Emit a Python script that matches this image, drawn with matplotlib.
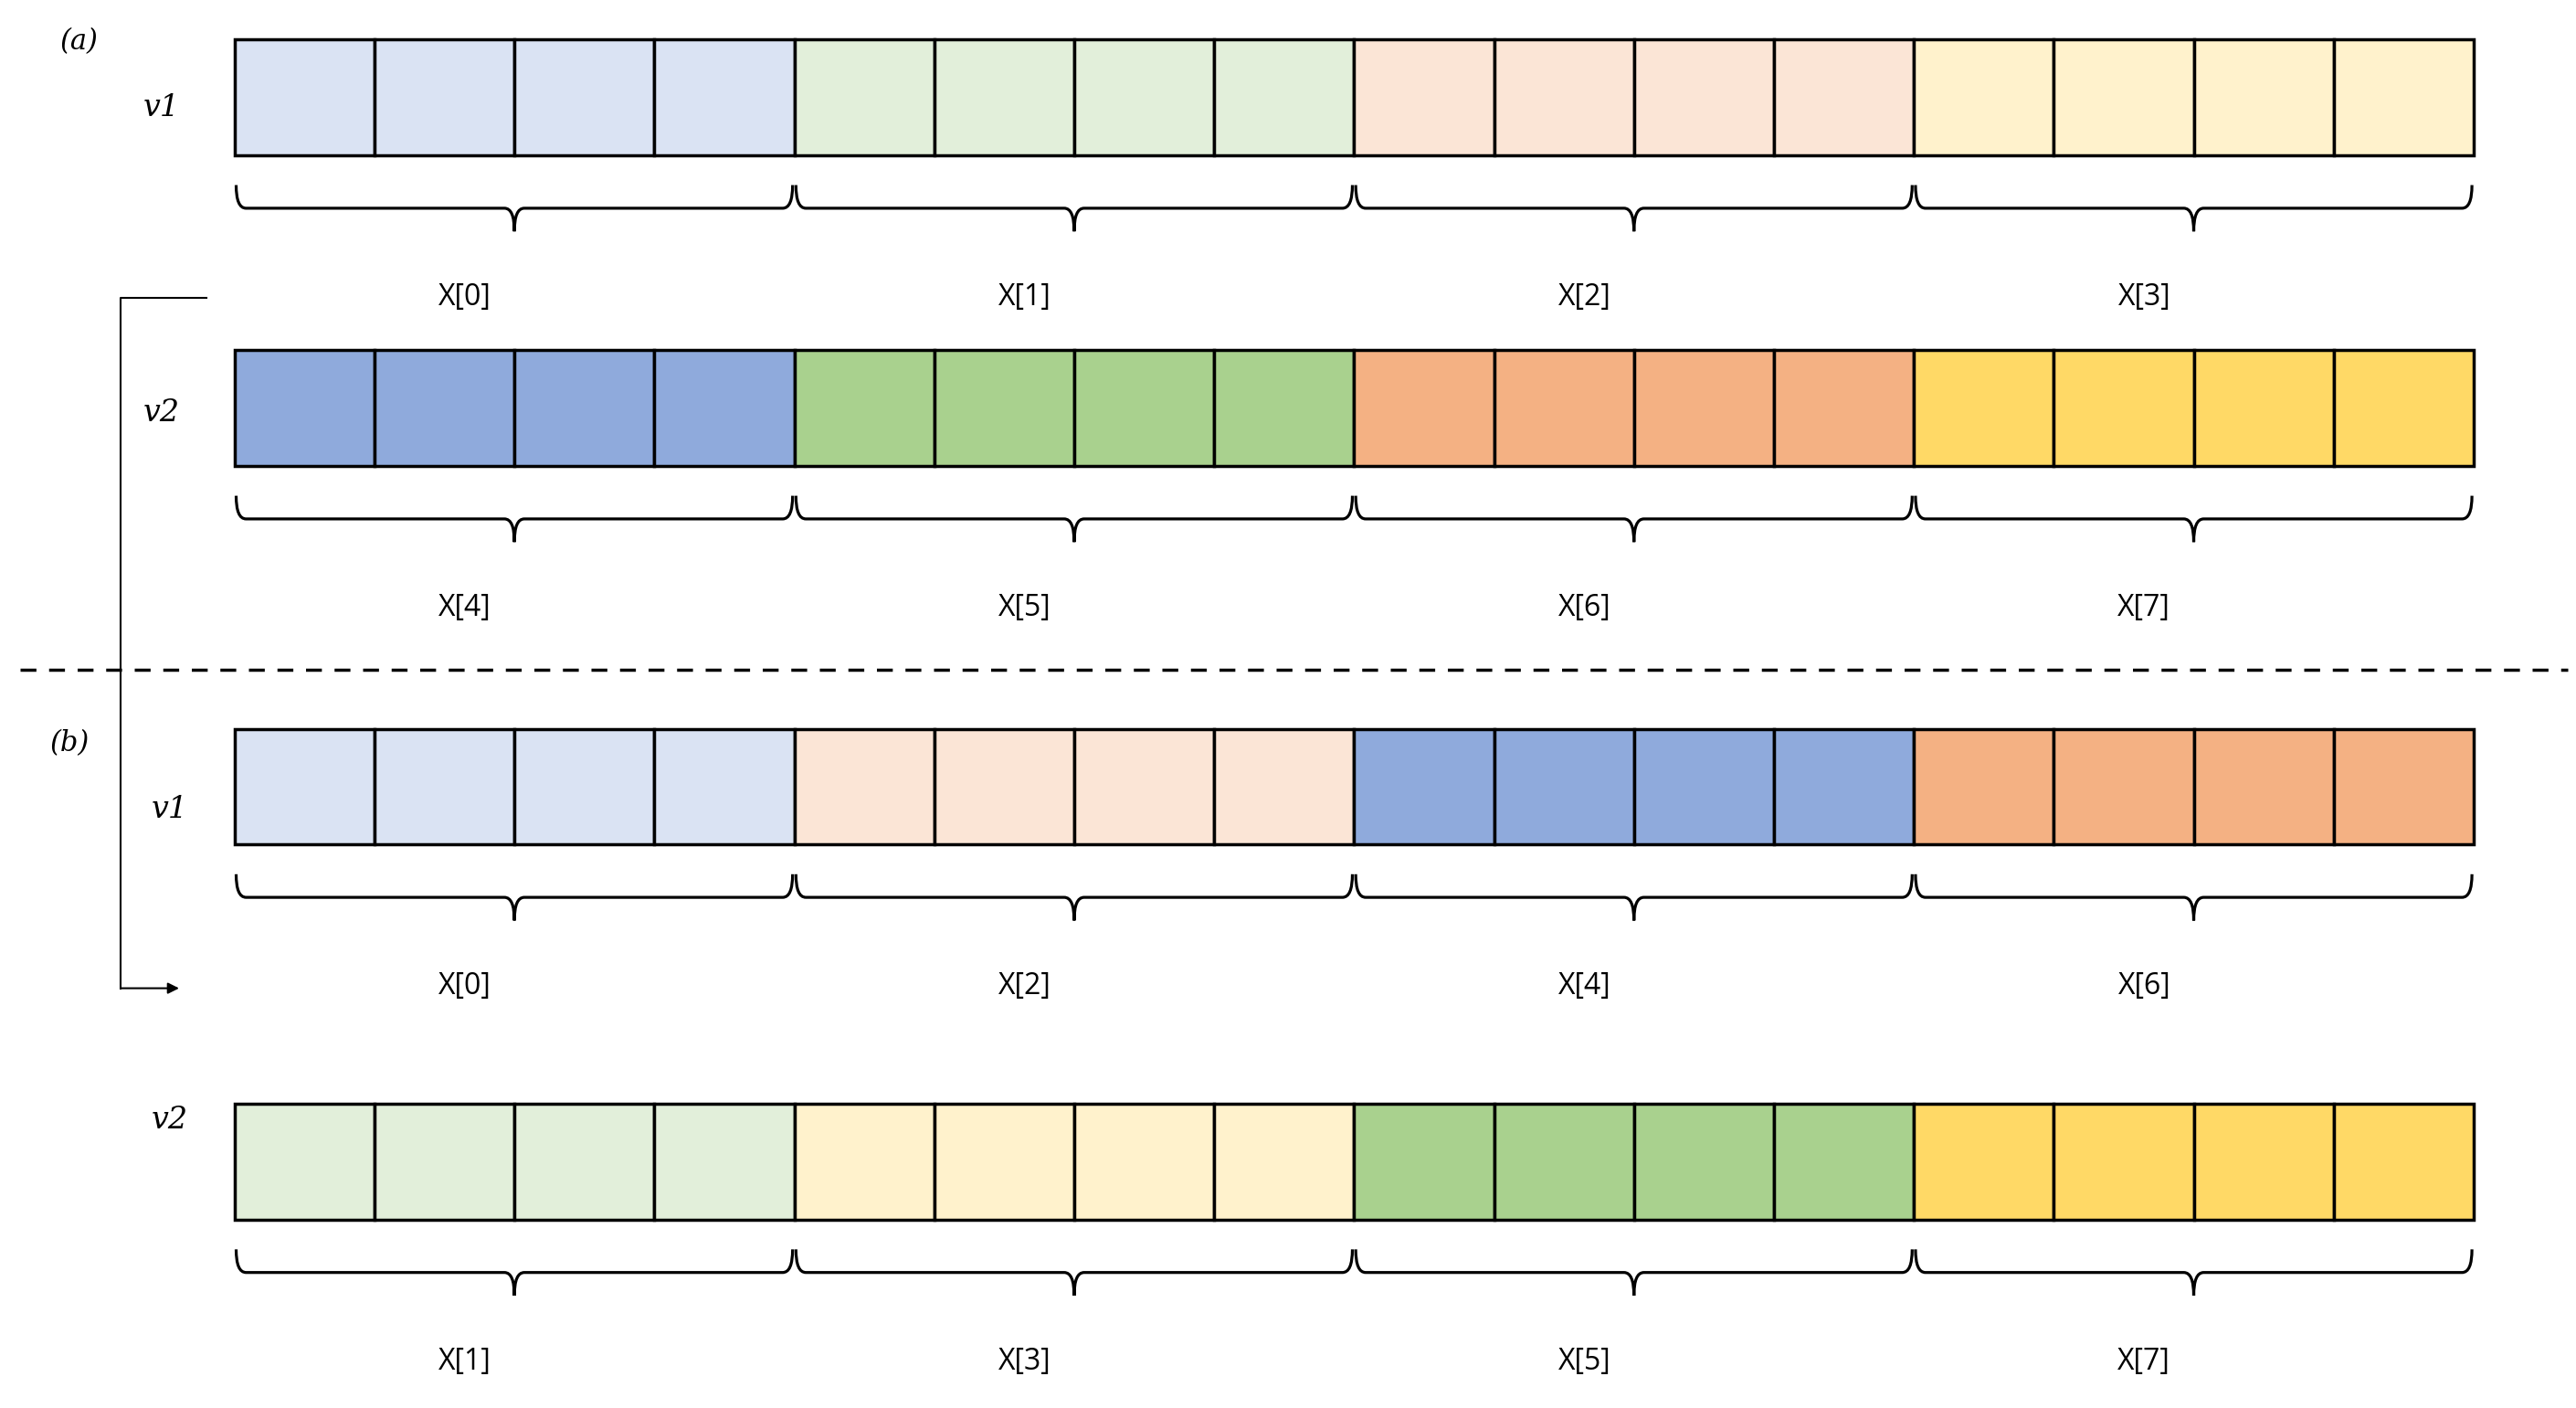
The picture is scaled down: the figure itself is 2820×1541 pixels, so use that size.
import matplotlib
matplotlib.use("Agg")
import matplotlib.pyplot as plt
from matplotlib.patches import Rectangle, PathPatch
from matplotlib.path import Path

LB, LG, LO, LY = "#DAE3F3", "#E2EFDA", "#FBE5D6", "#FFF2CC"
DB, DG, DO, DY = "#8FAADC", "#A9D18E", "#F4B183", "#FFD966"

rows_colors = [[LB, LG, LO, LY], [DB, DG, DO, DY], [LB, LO, DB, DO], [LG, LY, DG, DY]]
rows_labels = [["X[0]", "X[1]", "X[2]", "X[3]"], ["X[4]", "X[5]", "X[6]", "X[7]"],
               ["X[0]", "X[2]", "X[4]", "X[6]"], ["X[1]", "X[3]", "X[5]", "X[7]"]]
row_names = ["v1", "v2", "v1", "v2"]
row_top = [24, 212, 441, 668]
row_name_pos = [(98, 65), (98, 250), (103, 490), (103, 678)]

W, H = 1560, 852
fig = plt.figure(figsize=(28.2, 15.41), dpi=100)
ax = fig.add_axes([0, 0, 1, 1])
ax.set_xlim(0, W); ax.set_ylim(H, 0); ax.axis("off")

x0, x1 = 142, 1498
cw = (x1 - x0) / 16
rh = 70

def brace(xa, xb, yt, h=28, r=6):
    xm = (xa + xb) / 2
    ym = yt + h * 0.5
    verts = [(xa, yt), (xa, ym), (xa + r, ym), (xm - r, ym), (xm, ym), (xm, yt + h),
             (xm, ym), (xm + r, ym), (xb - r, ym), (xb, ym), (xb, yt)]
    codes = [Path.MOVETO, Path.CURVE3, Path.CURVE3, Path.LINETO, Path.CURVE3, Path.CURVE3,
             Path.CURVE3, Path.CURVE3, Path.LINETO, Path.CURVE3, Path.CURVE3]
    ax.add_patch(PathPatch(Path(verts, codes), fill=False, lw=2.3, ec="black"))

for r in range(4):
    yt = row_top[r]
    for g in range(4):
        for c in range(4):
            i = g * 4 + c
            ax.add_patch(Rectangle((x0 + i * cw, yt), cw, rh, fc=rows_colors[r][g],
                                   ec="black", lw=2.5))
        xa, xb = x0 + g * 4 * cw, x0 + (g + 1) * 4 * cw
        brace(xa + 1, xb - 1, yt + rh + 18)
        ax.text((xa + xb) / 2 - 30, yt + rh + 86, rows_labels[r][g], ha="center", va="center",
                fontsize=23, family="Open Sans")
    nx, ny = row_name_pos[r]
    ax.text(nx, ny, row_names[r], ha="center", va="center", fontsize=24,
            family="DejaVu Serif", style="italic")

ax.text(48, 25, "(a)", ha="center", va="center", fontsize=22, family="DejaVu Serif", style="italic")
ax.text(42, 450, "(b)", ha="center", va="center", fontsize=22, family="DejaVu Serif", style="italic")

ax.plot([12, 1555], [405, 405], ls=(0, (5, 4)), color="black", lw=2.5)
ax.plot([125, 73, 73], [180, 180, 598], color="black", lw=1.5)
ax.annotate("", xy=(110, 598), xytext=(72, 598),
            arrowprops=dict(arrowstyle="-|>", color="black", lw=1.5, mutation_scale=18))

fig.savefig("out.png", dpi=100, facecolor="white")
